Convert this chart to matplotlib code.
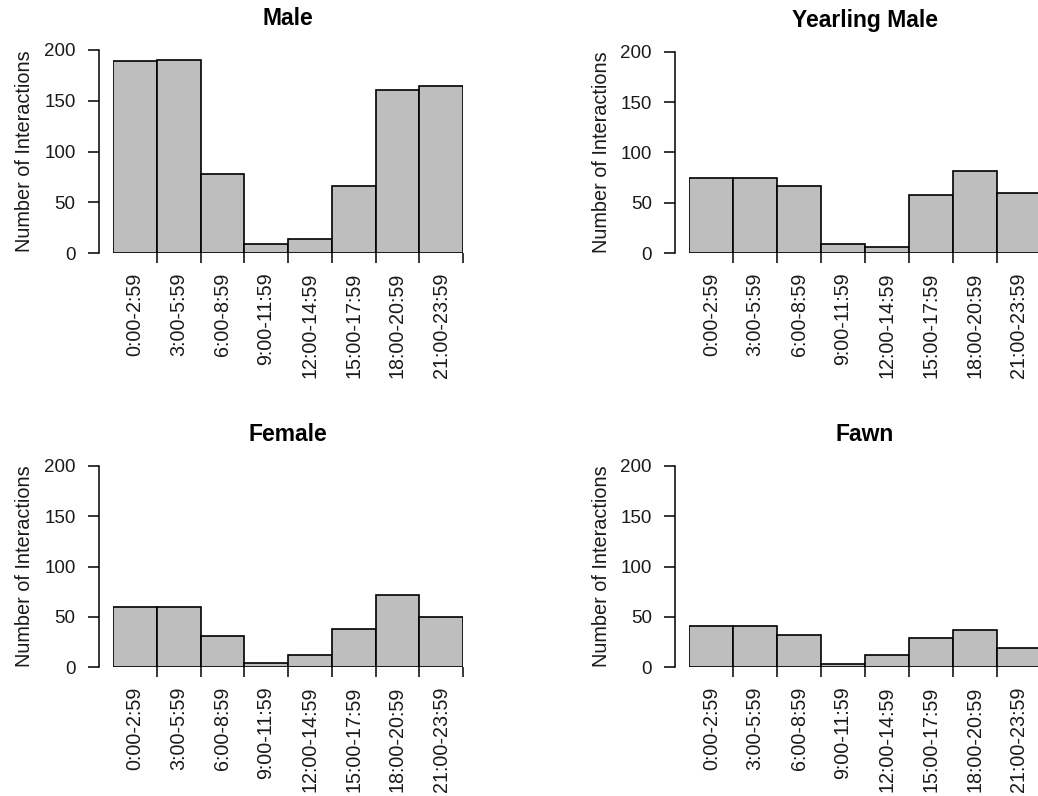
import numpy as np
import matplotlib
matplotlib.use("Agg")
import matplotlib.pyplot as plt

plt.rcParams['font.family'] = ['Liberation Sans', 'DejaVu Sans']

# interaction counts per 3-hour window
time_bins = ["0:00-2:59", "3:00-5:59", "6:00-8:59", "9:00-11:59",
             "12:00-14:59", "15:00-17:59", "18:00-20:59", "21:00-23:59"]
male = [189, 190, 78, 9, 14, 66, 161, 165]
yearling_male = [75, 75, 67, 9, 6, 58, 82, 60]
female = [60, 60, 31, 4, 12, 38, 72, 50]
fawn = [41, 41, 32, 3, 12, 29, 37, 19]

W, H = 1038, 796
fig = plt.figure(figsize=(W / 100, H / 100), dpi=100)

# panel boxes in pixels: (left, right, top(y=200), bottom(y=0))
panels = [
    ("Male", male, (113, 463, 50, 253.3)),
    ("Yearling Male", yearling_male, (689.3, 1040.5, 51.7, 253.3)),
    ("Female", female, (113, 463, 465.7, 667.3)),
    ("Fawn", fawn, (689.3, 1040.5, 465.7, 667.3)),
]

txt = "#1a1a1a"
for title, counts, (l, r, t, b) in panels:
    ax = fig.add_axes([l / W, 1 - b / H, (r - l) / W, (b - t) / H])
    x = np.arange(len(counts))
    ax.bar(x, counts, width=1.0, align='edge', color='#bebebe',
           edgecolor='black', linewidth=1.2)
    ax.set_xlim(0, len(counts))
    ax.set_ylim(0, 200)

    for s in ['top', 'right', 'bottom']:
        ax.spines[s].set_visible(False)
    ax.spines['left'].set_position(('outward', 10))
    ax.spines['left'].set_bounds(0, 200)
    ax.spines['left'].set_linewidth(1.1)

    ax.set_yticks([0, 50, 100, 150, 200])
    ax.tick_params(axis='y', length=8, width=1.1, pad=9, labelsize=13.5,
                   labelcolor=txt)

    # ticks at bar edges, labels at bar centres
    ax.set_xticks(x + 1)
    ax.set_xticklabels([])
    ax.tick_params(axis='x', which='major', length=7.2, width=1.1)
    ax.set_xticks(x + 0.5, minor=True)
    ax.set_xticklabels(time_bins, minor=True, rotation=90)
    ax.tick_params(axis='x', which='minor', length=0, pad=14,
                   labelsize=14.2, labelcolor=txt)

    ax.set_ylabel("Number of Interactions", fontsize=14.3, color=txt)
    ax.yaxis.label.set_va('center')
    ax.yaxis.set_label_coords(-88 / (r - l), 0.5)

    ax.set_title(title, fontsize=16.5, fontweight='bold', pad=18, color='black')

fig.savefig("out.png", dpi=100)
